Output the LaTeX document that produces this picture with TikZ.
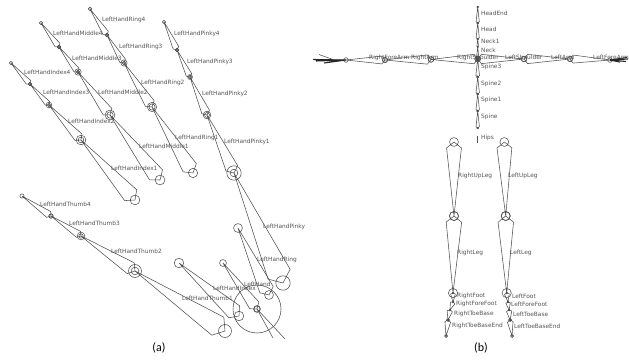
\documentclass[tikz,border=0pt]{standalone}
\usepackage{fontspec}
\setmainfont{DejaVu Sans}
\newfontfamily\capfont{Carlito}
\usetikzlibrary{calc}
\definecolor{bonecol}{HTML}{505050}
\definecolor{labcol}{HTML}{555555}
\tikzset{
  bonestyle/.style={draw=bonecol,line width=0.55pt,line join=round},
  lab/.style={anchor=west,inner sep=0pt,text=labcol,font=\fontsize{5.85}{6}\selectfont},
  captext/.style={inner sep=0pt,text=black,font=\capfont\fontsize{12}{14}\selectfont},
  handline/.style={draw=black!85,line width=1.1pt}
}
\newcommand{\bone}[2]{%
  \draw[bonestyle] let \p1=($(#2)-(#1)$),\n1={0.06*veclen(\x1,\y1)} in
    (#1) circle[radius=\n1] (#2) circle[radius=\n1]
    (#2) -- ($(#1)!0.08!(#2)!0.109!90:(#2)$) -- (#1)
    -- ($(#1)!0.08!(#2)!0.109!-90:(#2)$) -- cycle;}
\newcommand{\widebone}[3]{%
  \draw[bonestyle] let \p1=($(#2)-(#1)$),\n1={0.1*veclen(\x1,\y1)} in
    (#1) circle[radius=\n1] (#2) circle[radius=\n1]
    (#2) -- ($(#1)!0.12!(#2)!#3!90:(#2)$) -- (#1)
    -- ($(#1)!0.12!(#2)!#3!-90:(#2)$) -- cycle;}
\newcommand{\jt}[2]{\coordinate (#1) at (#2);}
\newcommand{\lb}[3]{\node[lab] (#1) at (#2) {#3};}
\begin{document}
\begin{tikzpicture}[x=1pt,y=-1pt]
\useasboundingbox (0,0) rectangle (629,363);
% ---- (a) joints
\jt{i4}{11,63}\jt{i3}{30,84}\jt{i2}{49,105}\jt{i1}{81,140}\jt{i0}{135,200}
\jt{m4}{41,23}\jt{m3}{59,47}\jt{m2}{78,72}\jt{m1}{110,115}\jt{m0}{160,180}
\jt{r4}{90,9}\jt{r3}{107,35}\jt{r2}{124,63}\jt{r1}{152,107}\jt{r0}{193,173}
\jt{p4}{164,22}\jt{p3}{177,50}\jt{p2}{190,77}\jt{p1}{207,115}\jt{p0}{234,173}
\jt{t4}{22,196}\jt{t3}{51,216}\jt{t2}{81,236}\jt{t1}{135,271}\jt{t0}{225,331}
\jt{hi}{179,263}\jt{hib}{239,316}
\jt{hh}{223,263}\jt{hhb}{257,309}
\jt{hr}{238,228}\jt{hrb}{269,295}
\jt{hpb}{283,283}
\jt{wa}{273,338}\jt{wb}{285,339}
\foreach \a/\b in {i0/i1,i1/i2,i2/i3,i3/i4,m0/m1,m1/m2,m2/m3,m3/m4,r0/r1,r1/r2,r2/r3,r3/r4,p0/p1,p1/p2,p2/p3,p3/p4,t0/t1,t1/t2,t2/t3,t3/t4,hib/hi,hhb/hh,hrb/hr,hpb/p0}{\bone{\a}{\b}}
\draw[bonestyle] (hhb) circle[radius=24];
\draw[bonestyle] (hhb) circle[radius=3];
\draw[bonestyle] (hhb) -- (wa) (hhb) -- (wb);
% ---- (a) labels
\lb{lr4}{102,20}{LeftHandRing4}
\lb{lm4}{53,33}{LeftHandMiddle4}
\lb{lm3}{72,58}{LeftHandMiddle3}
\lb{lr3}{119,47}{LeftHandRing3}
\lb{lr2}{141,83}{LeftHandRing2}
\lb{li4}{24,72}{LeftHandIndex4}
\lb{li3}{43,92}{LeftHandIndex3}
\lb{lm2}{98,92}{LeftHandMiddle2}
\lb{li2}{68,121}{LeftHandIndex2}
\lb{li1}{111,168}{LeftHandIndex1}
\lb{lm1}{139,146}{LeftHandMiddle1}
\lb{lr1}{175,138}{LeftHandRing1}
\lb{lp4}{174,34}{LeftHandPinky4}
\lb{lp3}{187,62}{LeftHandPinky3}
\lb{lp2}{202,94}{LeftHandPinky2}
\lb{lp1}{224,142}{LeftHandPinky1}
\lb{lt4}{40,204}{LeftHandThumb4}
\lb{lt3}{69,223}{LeftHandThumb3}
\lb{lt2}{111,251}{LeftHandThumb2}
\lb{lt1}{182,298}{LeftHandThumb1}
\lb{lhi}{213,288}{LeftHandIndex}
\lb{lh}{244,284}{LeftHand}
\lb{lhr}{257,260}{LeftHandRing}
\lb{lhp}{263,227}{LeftHandPinky}
% ---- (b) joints
\jt{hip}{477.7,143}\jt{hiq}{477.7,136}
\jt{s0}{477.7,128}\jt{s1}{477.7,111}\jt{s2}{477.7,94}\jt{s3}{477.7,77}\jt{c}{477.7,59}
\jt{n1}{477.7,47}\jt{n2}{477.7,39}\jt{he}{477.7,23}\jt{hd}{477.7,7}
\jt{ls}{524,59}\jt{la}{570,59}\jt{lf}{610,60}
\jt{rs}{431,59.5}\jt{ra}{385,60}\jt{rf}{346,60}
\jt{ru}{454,142}\jt{rk}{454,216}\jt{ran}{453,293}\jt{rff}{453,302}\jt{rtb}{450,310}\jt{rtc}{448,320}\jt{rte}{446,336}
\jt{lu}{504.3,142}\jt{lk}{505.7,216}\jt{lan}{506.7,293}\jt{lff}{508,302}\jt{ltb}{509,310}\jt{ltc}{510,320}\jt{lte}{512,336}
\foreach \a/\b in {s0/s1,s1/s2,s2/s3,s3/c,c/n1,n1/n2,n2/he,he/hd,c/ls,ls/la,la/lf,c/rs,rs/ra,ra/rf,ru/rk,rk/ran,lu/lk,lk/lan}{\bone{\a}{\b}}
\draw[bonestyle,line width=1.4pt] (hip) -- (hiq);
\foreach \a/\b/\w in {ran/rff/0.3,rff/rtb/0.32,rtb/rtc/0.3,rtc/rte/0.2,lan/lff/0.3,lff/ltb/0.32,ltb/ltc/0.3,ltc/lte/0.2}{\widebone{\a}{\b}{\w}}
\fill[bonecol] (c) circle[radius=2.2];
% hands: tiny finger bundles
\jt{rh1}{313,59.5}\jt{rh2}{319,54.5}\jt{rh3}{324,63}\jt{rh4}{316,61}\jt{rh5}{333,59.5}
\draw[handline] (rf) -- (rh3) (rf) -- (rh1) (rf) -- (rh4);
\draw[bonestyle] (rf) -- (rh5) -- (rh2);
\jt{lh1}{628,59}\jt{lh2}{627,57.5}\jt{lh3}{626,61.5}\jt{lh4}{620,62}
\foreach \e in {lh1,lh2,lh3,lh4}{\draw[handline] (lf) -- (\e);}
% ---- (b) labels
\lb{bhe}{481,13}{HeadEnd}
\lb{bh}{481,29}{Head}
\lb{bn1}{481,41}{Neck1}
\lb{bn}{481,50}{Neck}
\lb{bs3}{481,66.5}{Spine3}
\lb{bs2}{481,84}{Spine2}
\lb{bs1}{481,100}{Spine1}
\lb{bs}{481,117}{Spine}
\lb{bhi}{481,138}{Hips}
\lb{brfa}{369,57.5}{RightForeArm}
\lb{bra}{411,57.5}{RightArm}
\lb{brs}{457,57.5}{RightShoulder}
\lb{bls}{505,57.5}{LeftShoulder}
\lb{bla}{551,57.5}{LeftArm}
\lb{blf}{593,57.5}{LeftForeArm}
\lb{bru}{458,176}{RightUpLeg}
\lb{blu}{508,176}{LeftUpLeg}
\lb{brl}{457,253}{RightLeg}
\lb{bll}{510,253}{LeftLeg}
\lb{brf}{457,296}{RightFoot}
\lb{brff}{456,304}{RightForeFoot}
\lb{brt}{454,314}{RightToeBase}
\lb{brte}{452,326}{RightToeBaseEnd}
\lb{blft}{512,296}{LeftFoot}
\lb{blff}{511,304}{LeftForeFoot}
\lb{blt}{513,314}{LeftToeBase}
\lb{blte}{514,326}{LeftToeBaseEnd}
\node[captext] (capa) at (159,348) {(a)};
\node[captext] (capb) at (481,348) {(b)};
\end{tikzpicture}
\end{document}
